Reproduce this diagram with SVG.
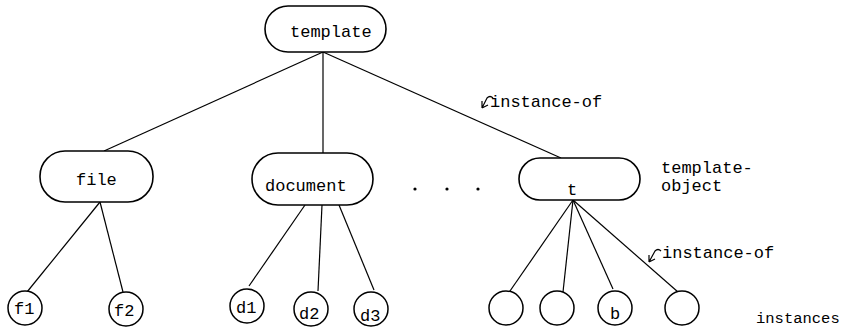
<svg xmlns="http://www.w3.org/2000/svg" width="844" height="331" viewBox="0 0 844 331">
  <style>
    .box { fill: #fff; stroke: #000; stroke-width: 1.6; }
    .inst { fill: #fff; stroke: #000; stroke-width: 1.5; }
    .edge { fill: none; stroke: #000; stroke-width: 1.2; }
    .tag { fill: none; stroke: #000; stroke-width: 1.2; }
    text { font-family: "Liberation Mono", "Courier New", monospace; font-size: 17px; fill: #000; }
    .small { font-size: 15.5px; }
  </style>

  <g id="connectors">
    <!-- template to template-objects -->
    <path class="edge" d="M323 52 L104 151"/>
    <path class="edge" d="M323 52 L323 153"/>
    <path class="edge" d="M323 52 L561 158"/>
    <!-- file to its instances -->
    <path class="edge" d="M100 202 L27 292"/>
    <path class="edge" d="M100 202 L123 292"/>
    <!-- document to its instances -->
    <path class="edge" d="M305 205 L249 286"/>
    <path class="edge" d="M322 205 L318 291"/>
    <path class="edge" d="M339 205 L374 290"/>
    <!-- t to its instances -->
    <path class="edge" d="M573 200 L510 291"/>
    <path class="edge" d="M573 200 L563 292"/>
    <path class="edge" d="M573 200 L613 289"/>
    <path class="edge" d="M573 200 L678 292"/>
  </g>

  <g id="template">
    <rect class="box" x="265" y="6" width="121" height="46" rx="23"/>
    <text x="290" y="37">template</text>
  </g>

  <g id="file">
    <rect class="box" x="40" y="151" width="113" height="51" rx="25"/>
    <text x="76" y="185">file</text>
  </g>

  <g id="document">
    <rect class="box" x="252" y="153" width="121" height="52" rx="26"/>
    <text x="265" y="191">document</text>
  </g>

  <g id="ellipsis">
    <circle cx="415" cy="189" r="1.6"/>
    <circle cx="447" cy="189" r="1.6"/>
    <circle cx="478" cy="189" r="1.6"/>
  </g>

  <g id="t">
    <rect class="box" x="519" y="158" width="121" height="42" rx="21"/>
    <text x="567" y="195">t</text>
  </g>

  <g id="f1">
    <circle class="inst" cx="25" cy="308" r="17"/>
    <text x="14" y="314">f1</text>
  </g>
  <g id="f2">
    <circle class="inst" cx="126" cy="309" r="17"/>
    <text x="114" y="316">f2</text>
  </g>
  <g id="d1">
    <circle class="inst" cx="247" cy="306" r="17"/>
    <text x="236" y="313">d1</text>
  </g>
  <g id="d2">
    <circle class="inst" cx="311" cy="309" r="17"/>
    <text x="299" y="319">d2</text>
  </g>
  <g id="d3">
    <circle class="inst" cx="371" cy="309" r="17"/>
    <text x="360" y="321">d3</text>
  </g>
  <g id="t1">
    <circle class="inst" cx="506" cy="308" r="17"/>
  </g>
  <g id="t2">
    <circle class="inst" cx="557" cy="308" r="17"/>
  </g>
  <g id="b">
    <circle class="inst" cx="615" cy="308" r="17"/>
    <text x="610" y="319">b</text>
  </g>
  <g id="t4">
    <circle class="inst" cx="682" cy="308" r="17"/>
  </g>

  <g id="labels">
    <path class="tag" d="M493 98 Q490 95 487 98 L482 108 M482 108 L482 101 M482 108 L488 105"/>
    <text x="490" y="107">instance-of</text>
    <path class="tag" d="M661 251 Q658 248 655 251 L649 262 M649 262 L649 255 M649 262 L655 259"/>
    <text x="662" y="258">instance-of</text>
    <text x="661" y="173">template-</text>
    <text x="661" y="191">object</text>
    <text class="small" x="756" y="323">instances</text>
  </g>
</svg>
